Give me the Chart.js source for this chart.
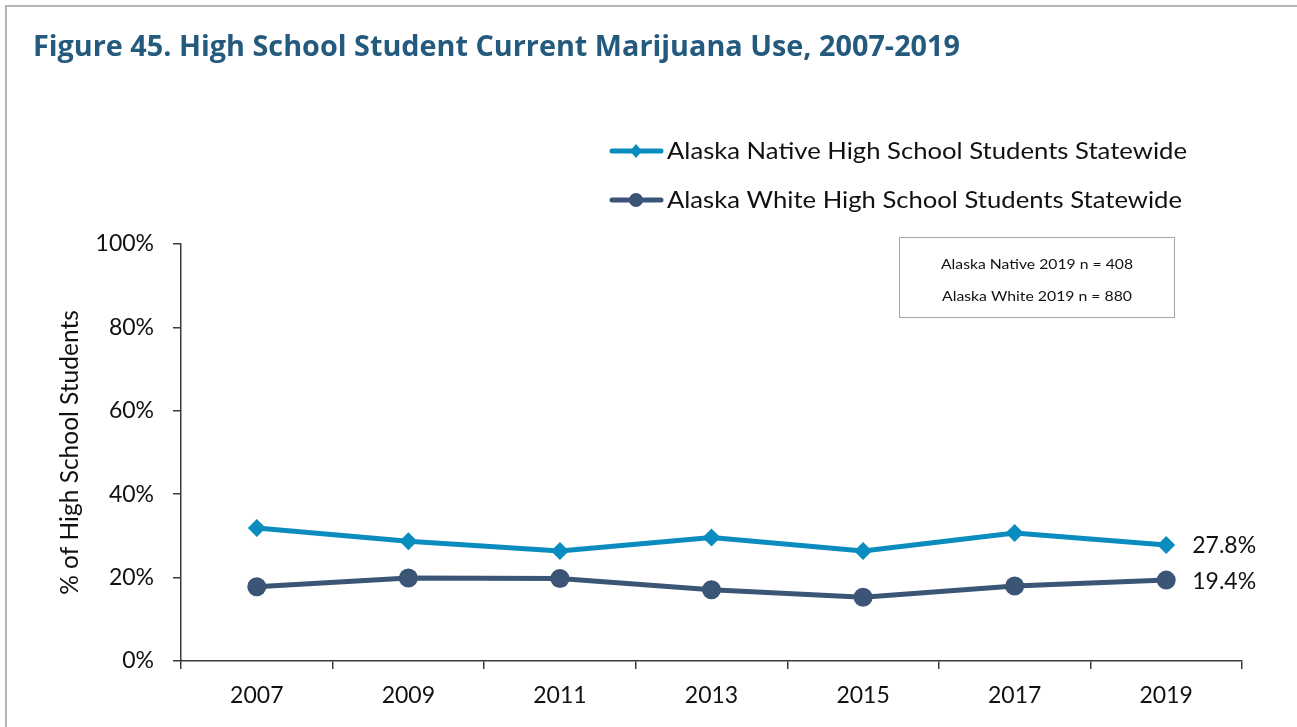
<!DOCTYPE html>
<html>
<head>
<meta charset="utf-8">
<title>Figure 45. High School Student Current Marijuana Use, 2007-2019</title>
<script src="https://cdn.jsdelivr.net/npm/chart.js@4.4.1/dist/chart.umd.min.js"></script>
<style>
  html, body { margin: 0; padding: 0; background: #ffffff; }
  #wrap { position: relative; width: 1297px; height: 727px; }
  canvas { display: block; }
</style>
</head>
<body>
<div id="wrap"><canvas id="chart" width="1297" height="727"></canvas></div>
<script>
// Survey years on the x axis
const years = ['2007', '2009', '2011', '2013', '2015', '2017', '2019'];

// Percent of high school students reporting current marijuana use
const nativeSeries = [31.9, 28.7, 26.4, 29.6, 26.4, 30.7, 27.8];
const whiteSeries  = [17.8, 19.9, 19.8, 17.1, 15.3, 18.0, 19.4];

// Series names
const nativeName = 'Alaska Native High School Students Statewide';
const whiteName  = 'Alaska White High School Students Statewide';

// Y axis tick values
const yTicks = [0, 20, 40, 60, 80, 100];

// Title, axis title and sample-size notes
const titleText = 'Figure 45. High School Student Current Marijuana Use, 2007-2019';
const yAxisTitle = '% of High School Students';
const sampleNotes = ['Alaska Native 2019 n = 408', 'Alaska White 2019 n = 880'];

const NATIVE_COLOR = '#0a8cbe';
const WHITE_COLOR = '#3b5576';
const TEXT_FONT = 'Lato, "Open Sans", sans-serif';

// Draw a string squeezed/stretched horizontally to an exact width
function drawFitted(ctx, text, x, y, width, align) {
  const natural = ctx.measureText(text).width;
  const sx = width / natural;
  ctx.save();
  let left = x;
  if (align === 'center') left = x - width / 2;
  else if (align === 'right') left = x - width;
  ctx.translate(left, y);
  ctx.scale(sx, 1);
  ctx.textAlign = 'left';
  ctx.fillText(text, 0, 0);
  ctx.restore();
}

const decorPlugin = {
  id: 'decor',
  beforeDraw(chart) {
    const ctx = chart.ctx;
    ctx.save();
    ctx.fillStyle = '#ffffff';
    ctx.fillRect(0, 0, chart.width, chart.height);
    // frame lines along the top and left edge
    ctx.strokeStyle = '#b4b4b4';
    ctx.lineWidth = 2;
    ctx.beginPath();
    ctx.moveTo(6, chart.height);
    ctx.lineTo(6, 6);
    ctx.lineTo(chart.width, 6);
    ctx.stroke();

    // title
    ctx.fillStyle = '#245a7e';
    ctx.font = 'bold 28px "Open Sans", sans-serif';
    ctx.textBaseline = 'alphabetic';
    drawFitted(ctx, titleText, 33, 56, 927, 'left');

    // legend
    const legendItems = [
      { name: nativeName, color: NATIVE_COLOR, style: 'diamond', y: 151, w: 520 },
      { name: whiteName, color: WHITE_COLOR, style: 'circle', y: 200, w: 515 }
    ];
    legendItems.forEach(item => {
      ctx.strokeStyle = item.color;
      ctx.fillStyle = item.color;
      ctx.lineWidth = 5;
      ctx.lineCap = 'round';
      ctx.beginPath();
      ctx.moveTo(612, item.y);
      ctx.lineTo(661, item.y);
      ctx.stroke();
      ctx.beginPath();
      if (item.style === 'diamond') {
        ctx.moveTo(636, item.y - 7);
        ctx.lineTo(642, item.y);
        ctx.lineTo(636, item.y + 7);
        ctx.lineTo(630, item.y);
        ctx.closePath();
      } else {
        ctx.arc(636, item.y, 7, 0, Math.PI * 2);
      }
      ctx.fill();
      ctx.fillStyle = '#111111';
      ctx.font = '23px ' + TEXT_FONT;
      ctx.textBaseline = 'middle';
      drawFitted(ctx, item.name, 667, item.y + 1, item.w, 'left');
    });

    // sample-size note box
    ctx.strokeStyle = '#a6a6a6';
    ctx.lineWidth = 1;
    ctx.strokeRect(899.5, 237.5, 275, 80);
    ctx.fillStyle = '#111111';
    ctx.font = '14px ' + TEXT_FONT;
    ctx.textBaseline = 'middle';
    drawFitted(ctx, sampleNotes[0], 1037, 264, 192, 'center');
    drawFitted(ctx, sampleNotes[1], 1037, 296, 190, 'center');
    ctx.restore();
  },
  afterDatasetsDraw(chart) {
    // value labels next to the final year of each series
    const ctx = chart.ctx;
    ctx.save();
    ctx.fillStyle = '#111111';
    ctx.font = '23px ' + TEXT_FONT;
    ctx.textBaseline = 'middle';
    ctx.textAlign = 'left';
    chart.data.datasets.forEach((ds, i) => {
      const meta = chart.getDatasetMeta(i);
      const last = meta.data[meta.data.length - 1];
      const v = ds.data[ds.data.length - 1];
      ctx.fillText(v.toFixed(1) + '%', last.x + 26, last.y + 1);
    });
    ctx.restore();
  }
};

new Chart(document.getElementById('chart'), {
  type: 'line',
  data: {
    labels: years,
    datasets: [
      {
        label: nativeName,
        data: nativeSeries,
        borderColor: NATIVE_COLOR,
        backgroundColor: NATIVE_COLOR,
        borderWidth: 5,
        pointStyle: 'rectRot',
        pointRadius: 9,
        pointBorderWidth: 0,
        tension: 0
      },
      {
        label: whiteName,
        data: whiteSeries,
        borderColor: WHITE_COLOR,
        backgroundColor: WHITE_COLOR,
        borderWidth: 5,
        pointStyle: 'circle',
        pointRadius: 9.5,
        pointBorderWidth: 0,
        tension: 0
      }
    ]
  },
  options: {
    responsive: false,
    animation: false,
    layout: { padding: { left: 0, right: 55, top: 244, bottom: 0 } },
    plugins: {
      legend: { display: false },
      title: { display: false },
      tooltip: { enabled: false }
    },
    scales: {
      x: {
        type: 'category',
        offset: true,
        grid: {
          offset: true,
          drawOnChartArea: false,
          drawTicks: true,
          tickLength: 8,
          color: '#3a3a3a',
          lineWidth: 1.5
        },
        border: { color: '#3a3a3a', width: 1.5 },
        ticks: {
          color: '#111111',
          font: { family: TEXT_FONT, size: 23 },
          padding: 13,
          maxRotation: 0
        },
        afterFit(scale) { scale.height = 66; }
      },
      y: {
        min: 0,
        max: 100,
        afterBuildTicks(scale) { scale.ticks = yTicks.map(v => ({ value: v })); },
        grid: {
          drawOnChartArea: false,
          drawTicks: true,
          tickLength: 8,
          color: '#3a3a3a',
          lineWidth: 1.5
        },
        border: { color: '#3a3a3a', width: 1.5 },
        ticks: {
          color: '#111111',
          font: { family: TEXT_FONT, size: 23 },
          padding: 19,
          callback: v => v + '%'
        },
        title: {
          display: true,
          text: yAxisTitle,
          color: '#111111',
          font: { family: TEXT_FONT, size: 24.5 },
          padding: { top: 55, bottom: 0 }
        },
        afterFit(scale) { scale.width = 181; }
      }
    }
  },
  plugins: [decorPlugin]
});
</script>
</body>
</html>
